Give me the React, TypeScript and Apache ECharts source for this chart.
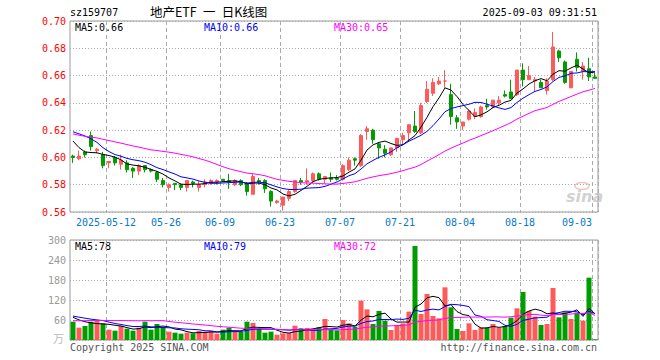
import React, { useEffect, useRef } from 'react';
import * as echarts from 'echarts';

const dates = [
  '2025-04-29','2025-04-30','2025-05-06','2025-05-07','2025-05-08','2025-05-09',
  '2025-05-12','2025-05-13','2025-05-14','2025-05-15','2025-05-16',
  '2025-05-19','2025-05-20','2025-05-21','2025-05-22','2025-05-23',
  '2025-05-26','2025-05-27','2025-05-28','2025-05-29','2025-05-30',
  '2025-06-03','2025-06-04','2025-06-05','2025-06-06',
  '2025-06-09','2025-06-10','2025-06-11','2025-06-12','2025-06-13',
  '2025-06-16','2025-06-17','2025-06-18','2025-06-19','2025-06-20',
  '2025-06-23','2025-06-24','2025-06-25','2025-06-26','2025-06-27',
  '2025-06-30','2025-07-01','2025-07-02','2025-07-03','2025-07-04',
  '2025-07-07','2025-07-08','2025-07-09','2025-07-10','2025-07-11',
  '2025-07-14','2025-07-15','2025-07-16','2025-07-17','2025-07-18',
  '2025-07-21','2025-07-22','2025-07-23','2025-07-24','2025-07-25',
  '2025-07-28','2025-07-29','2025-07-30','2025-07-31','2025-08-01',
  '2025-08-04','2025-08-05','2025-08-06','2025-08-07','2025-08-08',
  '2025-08-11','2025-08-12','2025-08-13','2025-08-14','2025-08-15',
  '2025-08-18','2025-08-19','2025-08-20','2025-08-21','2025-08-22',
  '2025-08-25','2025-08-26','2025-08-27','2025-08-28','2025-08-29',
  '2025-09-01','2025-09-02','2025-09-03',
];

const opens = [
  0.601, 0.599, 0.604, 0.616, 0.605, 0.602, 0.596, 0.600, 0.595, 0.596,
  0.592, 0.590, 0.594, 0.591, 0.589, 0.583, 0.578, 0.581, 0.580, 0.578,
  0.582, 0.578, 0.580, 0.581, 0.582, 0.584, 0.583, 0.580, 0.583, 0.581,
  0.573, 0.583, 0.583, 0.575, 0.567, 0.565, 0.570, 0.575, 0.583, 0.582,
  0.583, 0.588, 0.584, 0.585, 0.585, 0.584, 0.591, 0.599, 0.594, 0.619,
  0.620, 0.610, 0.606, 0.602, 0.607, 0.613, 0.618, 0.623, 0.618, 0.641,
  0.647, 0.654, 0.656, 0.646, 0.629, 0.623, 0.628, 0.630, 0.630, 0.638,
  0.637, 0.640, 0.646, 0.648, 0.646, 0.664, 0.657, 0.656, 0.655, 0.649,
  0.657, 0.678, 0.670, 0.651, 0.672, 0.663, 0.665, 0.659,
];

const closes = [
  0.600, 0.601, 0.602, 0.608, 0.606, 0.594, 0.597, 0.596, 0.598, 0.591,
  0.590, 0.594, 0.591, 0.590, 0.584, 0.580, 0.580, 0.580, 0.578, 0.583,
  0.581, 0.580, 0.582, 0.583, 0.583, 0.583, 0.582, 0.583, 0.580, 0.575,
  0.586, 0.582, 0.577, 0.568, 0.568, 0.571, 0.575, 0.583, 0.582, 0.583,
  0.588, 0.584, 0.586, 0.584, 0.584, 0.594, 0.598, 0.598, 0.616, 0.621,
  0.613, 0.607, 0.603, 0.607, 0.614, 0.616, 0.624, 0.619, 0.638, 0.650,
  0.655, 0.656, 0.656, 0.630, 0.626, 0.626, 0.634, 0.633, 0.637, 0.637,
  0.642, 0.642, 0.645, 0.643, 0.664, 0.657, 0.660, 0.657, 0.651, 0.656,
  0.681, 0.673, 0.655, 0.663, 0.666, 0.667, 0.659, 0.658,
];

const lows = [
  0.596, 0.598, 0.600, 0.605, 0.603, 0.592, 0.592, 0.594, 0.591, 0.589,
  0.585, 0.587, 0.589, 0.589, 0.582, 0.578, 0.575, 0.576, 0.576, 0.575,
  0.578, 0.575, 0.578, 0.580, 0.580, 0.582, 0.577, 0.579, 0.579, 0.572,
  0.573, 0.580, 0.574, 0.564, 0.566, 0.561, 0.568, 0.574, 0.580, 0.580,
  0.581, 0.583, 0.581, 0.582, 0.583, 0.583, 0.590, 0.594, 0.593, 0.613,
  0.610, 0.599, 0.600, 0.601, 0.604, 0.609, 0.612, 0.618, 0.617, 0.640,
  0.645, 0.653, 0.651, 0.624, 0.621, 0.620, 0.627, 0.628, 0.629, 0.635,
  0.636, 0.638, 0.644, 0.643, 0.645, 0.652, 0.657, 0.648, 0.651, 0.646,
  0.656, 0.670, 0.654, 0.651, 0.663, 0.657, 0.656, 0.658,
];

const highs = [
  0.602, 0.605, 0.605, 0.619, 0.607, 0.604, 0.597, 0.601, 0.602, 0.598,
  0.593, 0.595, 0.594, 0.592, 0.590, 0.585, 0.581, 0.581, 0.581, 0.583,
  0.583, 0.583, 0.584, 0.584, 0.584, 0.584, 0.588, 0.584, 0.584, 0.582,
  0.588, 0.585, 0.584, 0.576, 0.569, 0.571, 0.576, 0.583, 0.585, 0.592,
  0.589, 0.589, 0.586, 0.589, 0.587, 0.595, 0.600, 0.600, 0.617, 0.623,
  0.621, 0.611, 0.609, 0.607, 0.614, 0.618, 0.624, 0.634, 0.640, 0.656,
  0.658, 0.659, 0.664, 0.654, 0.631, 0.626, 0.635, 0.636, 0.638, 0.643,
  0.642, 0.645, 0.649, 0.657, 0.664, 0.669, 0.667, 0.659, 0.657, 0.658,
  0.692, 0.679, 0.671, 0.663, 0.677, 0.670, 0.673, 0.662,
];

const volumes = [
  55, 37, 42, 55, 57, 50, 31, 28, 43, 34,
  28, 37, 55, 31, 48, 38, 25, 22, 19, 22,
  20, 27, 25, 27, 19, 31, 37, 25, 25, 55,
  51, 33, 22, 25, 16, 20, 21, 43, 35, 36,
  32, 38, 63, 32, 29, 60, 50, 40, 118, 92,
  48, 87, 58, 30, 45, 50, 85, 282, 78, 138,
  72, 65, 158, 98, 33, 27, 50, 30, 38, 37,
  48, 37, 42, 67, 95, 144, 87, 70, 45, 48,
  156, 68, 83, 63, 82, 58, 187, 2,
];

// estimated closes / volumes of the 29 sessions before the visible window (feed the moving averages)
const priorCloses = [
  0.628, 0.627, 0.626, 0.623, 0.625, 0.624, 0.626, 0.625, 0.622, 0.621,
  0.620, 0.622, 0.619, 0.598, 0.600, 0.596, 0.602, 0.605, 0.608, 0.611,
  0.616, 0.618, 0.628, 0.633, 0.633, 0.625, 0.618, 0.610, 0.607,
];
const priorVolumes = [
  45, 38, 40, 52, 44, 36, 40, 38, 42, 35,
  44, 40, 39, 43, 38, 95, 88, 70, 75, 80,
  70, 72, 85, 78, 73, 75, 70, 72, 68,
];

const tickDates = ['2025-05-12', '2025-05-26', '2025-06-09', '2025-06-23', '2025-07-07', '2025-07-21', '2025-08-04', '2025-08-18', '2025-09-03'];
const priceLegend = ['MA5:0.66', 'MA10:0.66', 'MA30:0.65'];
const volumeLegend = ['MA5:78', 'MA10:79', 'MA30:72'];
const maPeriods = [5, 10, 30];

const RED = '#ff5a5a';
const GREEN = '#009c00';
const MA_COLORS = ['#000000', '#0000ff', '#ff00ff'];
const MONO = '"DejaVu Sans Mono", "Liberation Mono", monospace';

function movingAverage(values: number[], prior: number[], n: number): number[] {
  const all = prior.concat(values);
  return values.map((_, i) => {
    const end = prior.length + i;
    let s = 0;
    for (let k = end - n + 1; k <= end; k++) s += all[k];
    return +(s / n).toFixed(5);
  });
}

const signs = closes.map((c, i) => {
  if (opens[i] > c) return -1;
  if (opens[i] < c) return 1;
  return i > 0 ? (closes[i - 1] <= c ? 1 : -1) : 1;
});

const tickIdx = new Set(tickDates.map((d) => dates.indexOf(d)));
const firstTick = dates.indexOf(tickDates[0]);
const lastTick = dates.indexOf(tickDates[tickDates.length - 1]);

function buildOption() {
  const priceMA = maPeriods.map((n) => movingAverage(closes, priorCloses, n));
  const volMA = maPeriods.map((n) => movingAverage(volumes, priorVolumes, n));
  const splitX = {
    show: true,
    interval: (i: number) => tickIdx.has(i),
    lineStyle: { color: '#aaaaaa', width: 1, type: [4, 3] },
  };
  const txt = (text: string, x: number, y: number, fill: string, align = 'left', font = `10px ${MONO}`) => ({
    type: 'text',
    x,
    y,
    silent: true,
    style: { text, fill, font, align, textAlign: align, verticalAlign: 'middle', textVerticalAlign: 'middle' },
  });
  const legendX = [75, 204, 334];
  return {
    animation: false,
    backgroundColor: '#ffffff',
    grid: [
      { left: 70, top: 21, width: 528, height: 191, show: true, borderColor: '#999999', borderWidth: 1 },
      { left: 70, top: 240, width: 528, height: 100, show: true, borderColor: '#999999', borderWidth: 1 },
    ],
    xAxis: [
      {
        type: 'category', gridIndex: 0, data: dates, boundaryGap: true,
        axisLine: { show: false }, axisTick: { show: false },
        axisLabel: {
          interval: (i: number) => tickIdx.has(i),
          color: '#0a78c8', fontFamily: MONO, fontSize: 10, margin: 5,
          padding: [0, 6, 0, 0],
          formatter: (v: string, i: number) => (i === firstTick ? v : i === lastTick ? `{e|${v.slice(5)}}` : v.slice(5)),
          rich: { e: { color: '#0a78c8', fontFamily: MONO, fontSize: 10, padding: [0, 30, 0, 0] } },
        },
        splitLine: splitX,
      },
      {
        type: 'category', gridIndex: 1, data: dates, boundaryGap: true,
        axisLine: { show: false }, axisTick: { show: false }, axisLabel: { show: false },
        splitLine: splitX,
      },
    ],
    yAxis: [
      {
        type: 'value', gridIndex: 0, min: 0.56, max: 0.7, interval: 0.02, scale: true,
        axisLine: { show: false }, axisTick: { show: false },
        axisLabel: { color: '#ff0000', fontFamily: MONO, fontSize: 10, margin: 4, formatter: (v: number) => v.toFixed(2) },
        splitLine: { lineStyle: { color: '#aaaaaa', width: 1, type: [1, 2] } },
      },
      {
        type: 'value', gridIndex: 1, min: 0, max: 300, interval: 60,
        axisLine: { show: false }, axisTick: { show: false },
        axisLabel: { color: '#999999', fontFamily: MONO, fontSize: 10, margin: 4, formatter: (v: number) => (v === 0 ? '' : String(v)) },
        splitLine: { lineStyle: { color: '#aaaaaa', width: 1, type: [1, 2] } },
      },
    ],
    series: [
      {
        type: 'candlestick', xAxisIndex: 0, yAxisIndex: 0, barWidth: 4,
        data: dates.map((_, i) => [opens[i], closes[i], lows[i], highs[i]]),
        itemStyle: { color: RED, color0: GREEN, borderColor: RED, borderColor0: GREEN, borderWidth: 1 },
      },
      ...priceMA.map((d, k) => ({
        type: 'line', xAxisIndex: 0, yAxisIndex: 0, data: d, symbol: 'none', silent: true,
        lineStyle: { color: MA_COLORS[k], width: 1 },
      })),
      {
        type: 'bar', xAxisIndex: 1, yAxisIndex: 1, barWidth: 5,
        data: volumes.map((v, i) => ({ value: v, itemStyle: { color: signs[i] > 0 ? RED : GREEN } })),
      },
      ...volMA.map((d, k) => ({
        type: 'line', xAxisIndex: 1, yAxisIndex: 1, data: d, symbol: 'none', silent: true,
        lineStyle: { color: MA_COLORS[k], width: 1 },
      })),
    ],
    graphic: [
      txt('sz159707', 70, 12, '#000000'),
      txt('地产ETF\u2002一\u2002日K线图', 150, 11, '#000000', 'left', '12.5px "Noto Sans CJK SC", sans-serif'),
      txt('2025-09-03 09:31:51', 597, 12, '#000000', 'right'),
      ...priceLegend.map((t, k) => txt(t, legendX[k], 27, MA_COLORS[k])),
      ...volumeLegend.map((t, k) => txt(t, legendX[k], 246, MA_COLORS[k])),
      txt('万', 64, 338, '#bbbbbb', 'right', '11px "Noto Sans CJK SC", sans-serif'),
      txt('Copyright 2025 SINA.COM', 70, 347, '#555555'),
      txt('http://finance.sina.com.cn', 597, 347, '#555555', 'right'),
      { type: 'ellipse', silent: true, shape: { cx: 582, cy: 186, rx: 7, ry: 3.5 }, style: { fill: 'none', stroke: 'rgba(230,150,150,0.55)', lineWidth: 1.5 } },
      txt('sina', 566, 196, 'rgba(190,190,190,0.7)', 'left', 'italic bold 16px "DejaVu Sans", sans-serif'),
    ],
  };
}

export default function App() {
  const ref = useRef<HTMLDivElement>(null);
  useEffect(() => {
    if (!ref.current) return;
    const chart = echarts.init(ref.current, undefined, { renderer: 'svg' });
    chart.setOption(buildOption() as any);
    return () => chart.dispose();
  }, []);
  return <div ref={ref} style={{ position: 'fixed', left: 0, top: 0, width: 660, height: 360, background: '#fff' }} />;
}
